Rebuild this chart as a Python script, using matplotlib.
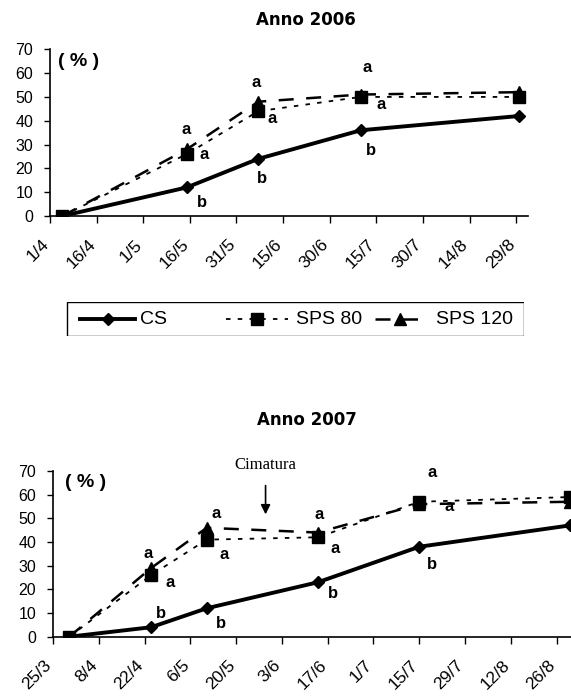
import matplotlib
matplotlib.use('Agg')
import pandas as pd
import matplotlib.pyplot as plt
import matplotlib.transforms as mtransforms
from matplotlib.patches import Rectangle

# ============================================================
# DATA
# ============================================================

dates_2006 = ['2006-04-05', '2006-05-15', '2006-06-07', '2006-07-10', '2006-08-30']
cs_2006 = [0, 12, 24, 36, 42]
sps80_2006 = [0, 26, 44, 50, 50]
sps120_2006 = [0, 28, 48, 51, 52]
ticks_2006 = ['1/4', '16/4', '1/5', '16/5', '31/5', '15/6', '30/6',
              '15/7', '30/7', '14/8', '29/8']

dates_2007 = ['2007-03-30', '2007-04-24', '2007-05-11', '2007-06-14',
              '2007-07-15', '2007-08-30']
cs_2007 = [0, 4, 12, 23, 38, 47]
sps80_2007 = [0, 26, 41, 42, 57, 59]
sps120_2007 = [0, 29, 46, 44, 56, 57]
ticks_2007 = ['25/3', '8/4', '22/4', '6/5', '20/5', '3/6', '17/6',
              '1/7', '15/7', '29/7', '12/8', '26/8']

# significance letters per point: (SPS 120, SPS 80, CS)
letters_2006 = [None, ('a', 'a', 'b'), ('a', 'a', 'b'), ('a', 'a', 'b'), None]
letters_2007 = [None, ('a', 'a', 'b'), ('a', 'a', 'b'), ('a', 'a', 'b'),
                ('a', 'a', 'b'), None]

series_names = ['CS', 'SPS 80', 'SPS 120']
cimatura_date = '2007-05-29'

# ============================================================
# SETTINGS
# ============================================================

plt.rcParams['font.family'] = ['Liberation Sans', 'DejaVu Sans']

W, H = 571, 697

STYLES = {
    'CS': dict(color='black', lw=2.8, marker='D', markersize=6),
    'SPS 80': dict(color='black', lw=1.3, linestyle=(0, (2.5, 4)),
                   marker='s', markersize=9),
    'SPS 120': dict(color='black', lw=1.8, linestyle=(0, (6, 5)),
                    marker='^', markersize=9),
}

# letter offsets in pixels (SPS120 above, SPS80 right, CS)
OFFSETS_2006 = [None,
                [(-1, 20), (17, 0), (15, -15)],
                [(-2, 19), (14, -7), (4, -20)],
                [(6, 27), (20, -8), (10, -20)],
                None]
OFFSETS_2007 = [None,
                [(-3, 15), (19, -7), (10, 14)],
                [(9, 14), (17, -15), (14, -15)],
                [(1, 18), (17, -11), (15, -11)],
                [(13, 32), (30, -5), (13, -18)],
                None]


def draw_panel(ax, dates, values, tick_labels, tick_step, xmax_days,
               letters, offsets, pct_pos):
    x = pd.to_datetime(dates)
    d, m = tick_labels[0].split('/')
    start = pd.Timestamp(x[0].year, int(m), int(d))
    ticks = pd.date_range(start, periods=len(tick_labels), freq=f'{tick_step}D')

    for name, vals in zip(series_names, values):
        z = 4 if name == 'CS' else 3
        ax.plot(x, vals, zorder=z, **STYLES[name])

    cs, sps80, sps120 = values
    for i, lab in enumerate(letters):
        if lab is None:
            continue
        ys = [sps120[i], sps80[i], cs[i]]
        for txt, yv, off in zip(lab, ys, offsets[i]):
            ax.annotate(txt, (x[i], yv), xytext=off, textcoords='offset pixels',
                        ha='center', va='center', fontsize=12,
                        fontweight='bold')

    ax.set_xlim(ticks[0], ticks[0] + pd.Timedelta(days=xmax_days))
    ax.set_ylim(0, 70)
    ax.set_xticks(ticks)
    ax.set_xticklabels(tick_labels, rotation=45, ha='right',
                       rotation_mode='anchor', fontsize=12.5)
    ax.set_yticks(range(0, 71, 10))
    ax.set_yticklabels([str(v) for v in range(0, 71, 10)], fontsize=11.5)
    ax.tick_params(axis='x', direction='out', length=5, width=1, pad=10)
    ax.tick_params(axis='y', direction='out', length=4, width=1, pad=8)

    shift = mtransforms.ScaledTranslation(-9 / 100, 0, ax.figure.dpi_scale_trans)
    for lab in ax.get_xticklabels():
        lab.set_transform(lab.get_transform() + shift)

    ax.spines['top'].set_visible(False)
    ax.spines['right'].set_visible(False)
    ax.spines['left'].set_linewidth(1.2)
    ax.spines['bottom'].set_linewidth(1.2)

    ax.text(pct_pos[0], pct_pos[1], '( % )', transform=ax.transAxes,
            fontsize=14, fontweight='bold', ha='left', va='center')


fig = plt.figure(figsize=(W / 100, H / 100), dpi=100)

# ---- 2006 ----
ax1 = fig.add_axes([50 / W, 1 - 216 / H, 478 / W, 166.7 / H])
draw_panel(ax1, dates_2006, [cs_2006, sps80_2006, sps120_2006], ticks_2006, 15,
           153.8, letters_2006, OFFSETS_2006, (0.017, 0.924))
fig.text(306 / W, 1 - 20 / H, 'Anno 2006', ha='center', va='center',
         fontsize=12, fontweight='bold', family='DejaVu Sans')

# ---- 2007 ----
ax2 = fig.add_axes([53 / W, 1 - 636.7 / H, 518 / W, 165.7 / H])
draw_panel(ax2, dates_2007, [cs_2007, sps80_2007, sps120_2007], ticks_2007, 14,
           158.4, letters_2007, OFFSETS_2007, (0.023, 0.928))
fig.text(307 / W, 1 - 420 / H, 'Anno 2007', ha='center', va='center',
         fontsize=12, fontweight='bold', family='DejaVu Sans')

# Cimatura arrow
cx = pd.Timestamp(cimatura_date)
ax2.annotate('', xy=(cx, 50.5), xytext=(cx, 65),
             arrowprops=dict(arrowstyle='-|>', color='black', lw=1.2,
                             mutation_scale=14))
ax2.text(cx, 72.5, 'Cimatura', ha='center', va='center', fontsize=12,
         family='Liberation Serif')

# ---- LEGEND (drawn in its own box, pixel units) ----
lax = fig.add_axes([66 / W, 1 - 336 / H, 458 / W, 34 / H])
lax.set_xlim(0, 458)
lax.set_ylim(0, 34)
lax.axis('off')
lax.add_patch(Rectangle((0.5, 0.5), 457, 33, fill=False, edgecolor='black',
                        lw=1.0))
handle_spans = [(14, 69), (160, 222), (309, 358)]
text_x = [74, 230, 370]
for name, (x0, x1), tx in zip(series_names, handle_spans, text_x):
    st = STYLES[name]
    lax.plot([x0, x1], [17, 17], color='black', lw=st['lw'],
             linestyle=st.get('linestyle', '-'))
    lax.plot([(x0 + x1) / 2], [17], color='black', marker=st['marker'],
             markersize=st['markersize'], linestyle='none')
    lax.text(tx, 17, name, ha='left', va='center', fontsize=14)

fig.savefig('out.png', dpi=100)
